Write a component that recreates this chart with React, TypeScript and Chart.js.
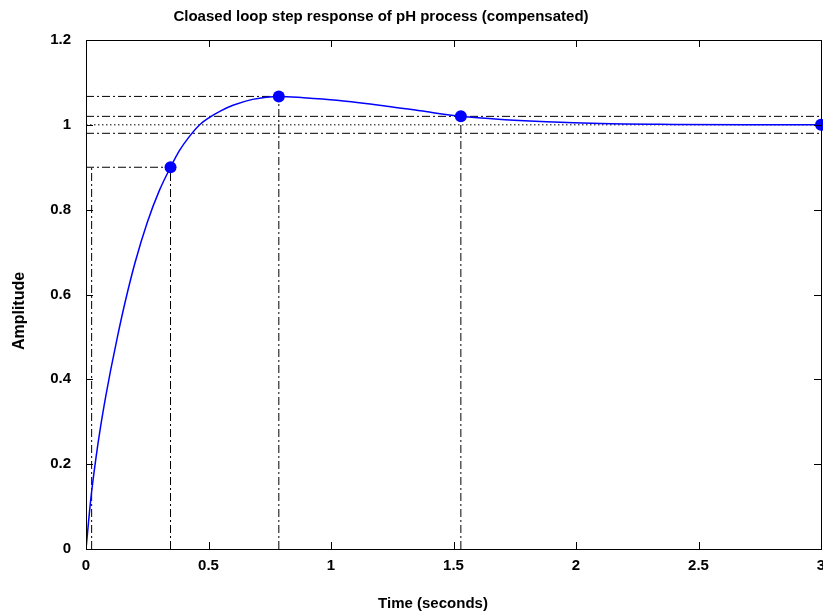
import React, { useEffect, useRef } from 'react';
import { Chart, registerables } from 'chart.js';

Chart.register(...registerables);

// Step response
const timeSeconds = [0, 0.02, 0.04, 0.06, 0.08, 0.1, 0.13, 0.16, 0.2, 0.25, 0.3, 0.345, 0.38, 0.42, 0.46, 0.5, 0.55, 0.6, 0.68, 0.787, 0.888, 1.024, 1.228, 1.365, 1.53, 1.71, 1.88, 2.1, 2.4, 2.7, 3];
const amplitude = [0, 0.12, 0.212, 0.29, 0.358, 0.42, 0.505, 0.583, 0.675, 0.77, 0.846, 0.9, 0.938, 0.971, 0.998, 1.016, 1.033, 1.046, 1.06, 1.067, 1.064, 1.058, 1.044, 1.033, 1.02, 1.012, 1.007, 1.003, 1.001, 1.0, 1.0];

// Characteristic markers: rise time (90%), peak, settling, steady state
const markerTimes = [0.345, 0.787, 1.53, 3];
const markerValues = [0.9, 1.067, 1.02, 1.0];

// Characteristic levels
const riseStartTime = 0.023;
const riseLevel = 0.9;
const peakTime = 0.787;
const peakValue = 1.067;
const settleTime = 1.53;
const finalValue = 1.0;
const bandUpper = 1.02;
const bandLower = 0.98;

const xTicks = [0, 0.5, 1, 1.5, 2, 2.5, 3];
const xTickLabels = ['0', '0.5', '1', '1.5', '2', '2.5', '3'];
const yTicks = [0, 0.2, 0.4, 0.6, 0.8, 1, 1.2];
const yTickLabels = ['0', '0.2', '0.4', '0.6', '0.8', '1', '1.2'];

const titleText = 'Cloased loop step response of pH process (compensated)';
const xTitle = 'Time (seconds)';
const yTitle = 'Amplitude';

const FONT = '"Liberation Sans", Arial, Helvetica, sans-serif';
const DASHDOT = [8, 3, 2, 3];
const DOTTED = [1.5, 2.5];

function seg(x0: number, y0: number, x1: number, y1: number) {
  return [{ x: x0, y: y0 }, { x: x1, y: y1 }];
}

const refLine = (data: any, dash: number[]) => ({
  type: 'line' as const,
  data,
  borderColor: '#000000',
  borderWidth: 1,
  borderDash: dash,
  pointRadius: 0,
  fill: false,
  tension: 0,
});

const framePlugin = {
  id: 'frameAndLabels',
  afterDraw(chart: any) {
    const { ctx, chartArea, scales } = chart;
    const { left, right, top, bottom } = chartArea;
    const x = scales.x;
    const y = scales.y;
    ctx.save();
    ctx.strokeStyle = '#000000';
    ctx.lineWidth = 1;
    ctx.setLineDash([]);
    ctx.strokeRect(Math.round(left) + 0.5, Math.round(top) + 0.5, Math.round(right - left), Math.round(bottom - top));
    const tl = 7;
    ctx.beginPath();
    xTicks.forEach((v) => {
      const px = Math.round(x.getPixelForValue(v)) + 0.5;
      ctx.moveTo(px, bottom);
      ctx.lineTo(px, bottom - tl);
      ctx.moveTo(px, top);
      ctx.lineTo(px, top + tl);
    });
    yTicks.forEach((v) => {
      const py = Math.round(y.getPixelForValue(v)) + 0.5;
      ctx.moveTo(left, py);
      ctx.lineTo(left + tl, py);
      ctx.moveTo(right, py);
      ctx.lineTo(right - tl, py);
    });
    ctx.stroke();

    ctx.fillStyle = '#000000';
    ctx.textAlign = 'center';
    ctx.textBaseline = 'middle';
    ctx.font = `bold 15px ${FONT}`;
    ctx.fillText(titleText, 381, 17);
    ctx.fillText(xTitle, 433, 604);
    ctx.translate(20, 311);
    ctx.rotate(-Math.PI / 2);
    ctx.font = `bold 16px ${FONT}`;
    ctx.fillText(yTitle, 0, 0);
    ctx.restore();
  },
};

export default function App() {
  const ref = useRef<HTMLCanvasElement>(null);

  useEffect(() => {
    if (!ref.current) return;
    const chart = new Chart(ref.current, {
      type: 'line',
      data: {
        datasets: [
          {
            type: 'scatter' as any,
            data: markerTimes.map((t, i) => ({ x: t, y: markerValues[i] })),
            backgroundColor: '#0000ff',
            borderColor: '#0000ff',
            pointRadius: 6,
            pointBorderWidth: 0,
            showLine: false,
            clip: false as any,
          },
          {
            type: 'line',
            data: timeSeconds.map((t, i) => ({ x: t, y: amplitude[i] })),
            borderColor: '#0000ff',
            borderWidth: 1.5,
            pointRadius: 0,
            fill: false,
            cubicInterpolationMode: 'monotone',
          },
          refLine(seg(0, riseLevel, markerTimes[0], riseLevel), DASHDOT),
          refLine(seg(riseStartTime, 0, riseStartTime, riseLevel), DASHDOT),
          refLine(seg(markerTimes[0], 0, markerTimes[0], riseLevel), DASHDOT),
          refLine(seg(0, peakValue, peakTime, peakValue), DASHDOT),
          refLine(seg(peakTime, 0, peakTime, peakValue), DASHDOT),
          refLine(seg(settleTime, 0, settleTime, bandUpper), DASHDOT),
          refLine(seg(0, bandUpper, 3, bandUpper), DASHDOT),
          refLine(seg(0, bandLower, 3, bandLower), DASHDOT),
          refLine(seg(0, finalValue, 3, finalValue), DOTTED),
        ] as any,
      },
      options: {
        animation: false,
        responsive: false,
        events: [],
        layout: { autoPadding: false, padding: { top: 40, right: 2, left: 0, bottom: 0 } },
        plugins: {
          legend: { display: false },
          title: { display: false },
          tooltip: { enabled: false },
        },
        scales: {
          x: {
            type: 'linear',
            min: 0,
            max: 3,
            grid: { display: false, drawTicks: false },
            border: { display: false },
            afterBuildTicks: (s: any) => {
              s.ticks = xTicks.map((v) => ({ value: v }));
            },
            afterFit: (s: any) => {
              s.height = 67;
              s.paddingLeft = 0;
              s.paddingRight = 0;
              s.paddingTop = 0;
              s.paddingBottom = 0;
            },
            ticks: {
              padding: 8,
              color: '#000000',
              font: { family: FONT, size: 15, weight: 'bold' },
              maxRotation: 0,
              autoSkip: false,
              callback: (v: any) => xTickLabels[xTicks.indexOf(Number(v))] ?? String(v),
            },
          },
          y: {
            type: 'linear',
            min: 0,
            max: 1.2,
            grid: { display: false, drawTicks: false },
            border: { display: false },
            afterBuildTicks: (s: any) => {
              s.ticks = yTicks.map((v) => ({ value: v }));
            },
            afterFit: (s: any) => {
              s.width = 86;
              s.paddingLeft = 0;
              s.paddingRight = 0;
              s.paddingTop = 0;
              s.paddingBottom = 0;
            },
            ticks: {
              padding: 15,
              color: '#000000',
              font: { family: FONT, size: 15, weight: 'bold' },
              autoSkip: false,
              callback: (v: any) => yTickLabels[yTicks.indexOf(Number(v))] ?? String(v),
            },
          },
        },
      } as any,
      plugins: [framePlugin],
    });
    return () => chart.destroy();
  }, []);

  return (
    <div style={{ position: 'fixed', left: 0, top: 0, width: 823, height: 616, background: '#ffffff' }}>
      <canvas ref={ref} width={823} height={616} style={{ display: 'block' }} />
    </div>
  );
}
